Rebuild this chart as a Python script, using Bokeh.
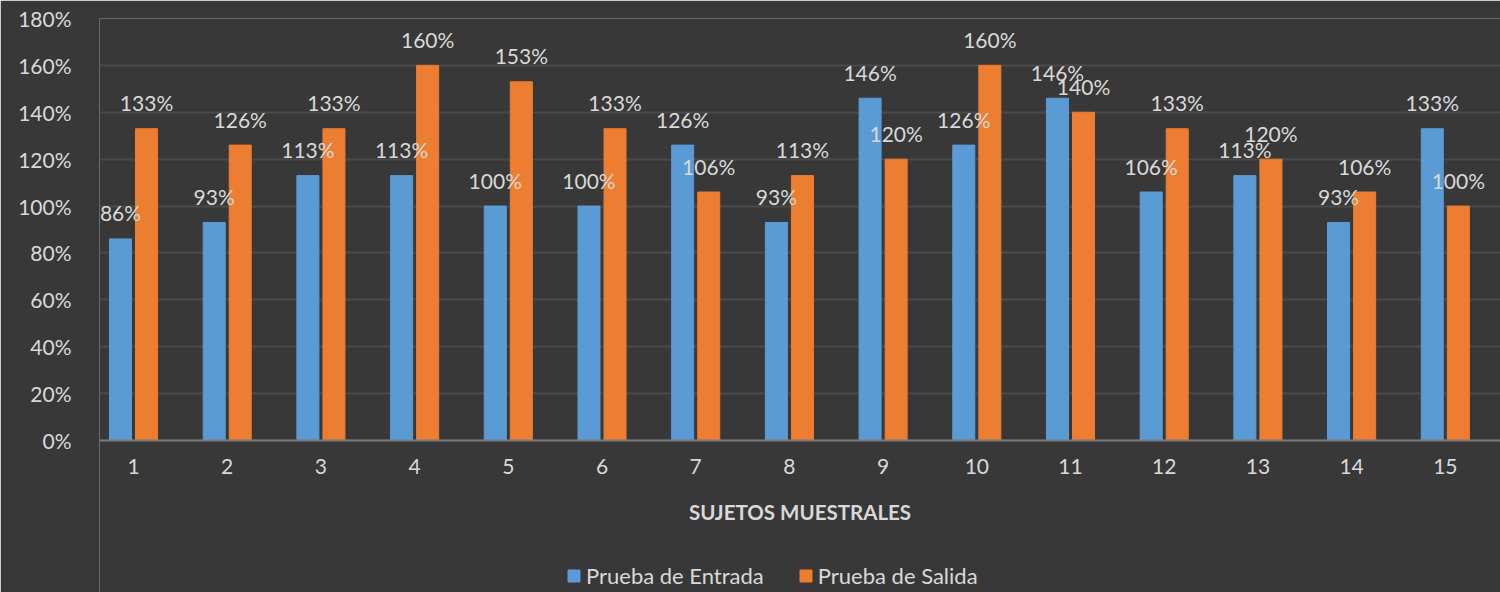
from bokeh.plotting import figure
from bokeh.models import ColumnDataSource, FixedTicker, PrintfTickFormatter, Legend, LegendItem, Range1d
from bokeh.transform import dodge
from bokeh.core.properties import value
from bokeh.embed import file_html
from bokeh.resources import INLINE

categories = list(range(1, 16))
entrada = [86, 93, 113, 113, 100, 100, 126, 93, 146, 126, 146, 106, 113, 93, 133]
salida = [133, 126, 133, 160, 153, 133, 106, 113, 120, 160, 140, 133, 120, 106, 100]
y_ticks = [0, 20, 40, 60, 80, 100, 120, 140, 160, 180]
series_names = ["Prueba de Entrada", "Prueba de Salida"]
x_title = "SUJETOS MUESTRALES"

BG = "#383838"
TXT = "#d9d9d9"
BLUE = "#5b9bd5"
ORANGE = "#ed7d31"
FONT = "Lato"

src = ColumnDataSource(dict(
    cat=categories,
    entrada=entrada,
    salida=salida,
    lab_e=[f"{v}%" for v in entrada],
    lab_s=[f"{v}%" for v in salida],
))

# frame spans to the bottom of the figure; the x axis is pinned at y = 0
p = figure(width=1500, height=592, output_backend="svg", toolbar_location=None,
           x_range=Range1d(0.637, 15.589), y_range=Range1d(-64.8, 180),
           min_border_left=99, min_border_right=0, min_border_top=18, min_border_bottom=0)
p.border_fill_color = BG
p.background_fill_color = BG
p.outline_line_color = None

bw = 0.235
off = 0.139
r1 = p.vbar(x=dodge("cat", -off), top="entrada", width=bw, source=src, color=BLUE)
r2 = p.vbar(x=dodge("cat", off), top="salida", width=bw, source=src, color=ORANGE)

p.text(x=dodge("cat", -off), y="entrada", text="lab_e", source=src,
       text_align="center", text_baseline="middle", y_offset=-26,
       text_font=value(FONT), text_font_size="21px", text_color=TXT)
p.text(x=dodge("cat", off), y="salida", text="lab_s", source=src,
       text_align="center", text_baseline="middle", y_offset=-26,
       text_font=value(FONT), text_font_size="21px", text_color=TXT)

p.xgrid.grid_line_color = None
p.ygrid.grid_line_color = "#4a4a4a"
p.ygrid.grid_line_width = 2

p.yaxis.ticker = FixedTicker(ticks=y_ticks)
p.yaxis.formatter = PrintfTickFormatter(format="%d%%")
p.xaxis.ticker = FixedTicker(ticks=categories)
p.xaxis.fixed_location = 0

for ax in (p.xaxis, p.yaxis):
    ax.major_tick_line_color = None
    ax.minor_tick_line_color = None
    ax.major_label_text_font = FONT
    ax.major_label_text_font_size = "21px"
    ax.major_label_text_color = TXT
p.yaxis.axis_line_color = None
p.yaxis.major_label_standoff = 22
p.xaxis.axis_line_color = "#7a7a7a"
p.xaxis.axis_line_width = 2
p.xaxis.major_label_standoff = 12
p.xaxis.axis_label = x_title
p.xaxis.axis_label_text_font = FONT
p.xaxis.axis_label_text_font_style = "bold"
p.xaxis.axis_label_text_font_size = "20.5px"
p.xaxis.axis_label_text_color = TXT
p.xaxis.axis_label_standoff = 23

legend = Legend(items=[LegendItem(label=series_names[0], renderers=[r1]),
                       LegendItem(label=series_names[1], renderers=[r2])],
                orientation="horizontal", location=(467, 3),
                background_fill_alpha=0, border_line_color=None,
                label_text_font=FONT, label_text_font_size="22px", label_text_color=TXT,
                glyph_width=15, glyph_height=15, label_standoff=5, spacing=34,
                padding=0, margin=0, label_height=22)
p.add_layout(legend, "center")

open("out.html", "w").write(file_html(p, INLINE))
